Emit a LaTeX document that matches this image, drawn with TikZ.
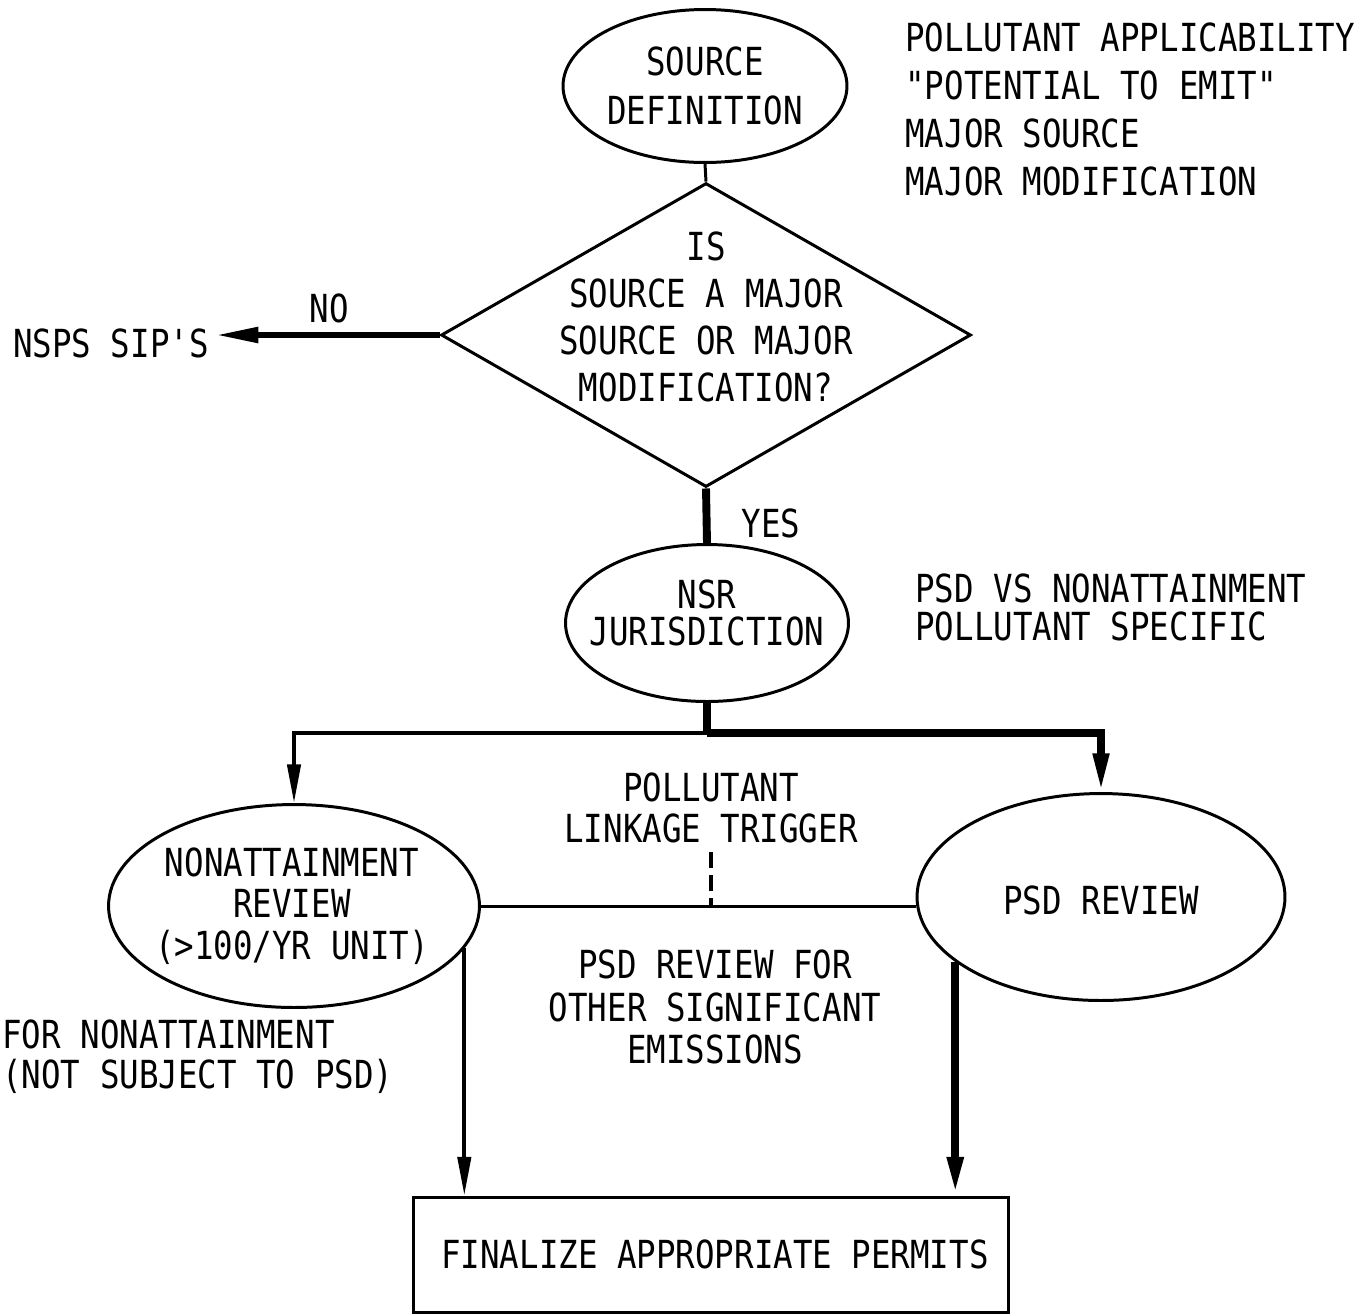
\documentclass[tikz,border=0pt]{standalone}
\usepackage{fontspec}
\newfontfamily\lettering[FakeStretch=0.84]{DejaVu Sans Mono}
\usetikzlibrary{shapes.geometric, arrows.meta}
\tikzset{
    terminal/.style={
        ellipse, draw=black, line width=1.7pt, inner sep=0pt
    },
    decision/.style={
        diamond, draw=black, line width=1.7pt, inner sep=0pt,
        minimum width=10.6cm, minimum height=6.08cm
    },
    permit/.style={
        rectangle, draw=black, line width=1.7pt, inner sep=0pt,
        minimum width=11.92cm, minimum height=2.3cm,
        font=\lettering\fontsize{22}{26}\selectfont
    },
    txt/.style={font=\lettering\fontsize{22}{#1}\selectfont, align=center, inner sep=0pt},
    txt/.default=26pt,
    wire/.style={draw=black, line width=2.2pt, -{Triangle[length=22pt, width=7.5pt]}},
    bus/.style={draw=black, line width=4.2pt, -{Triangle[length=22pt, width=8.5pt]}},
    trunk/.style={draw=black, line width=4.5pt},
    link/.style={draw=black, line width=1.7pt},
    tap/.style={draw=black, line width=2.6pt, dash pattern=on 9pt off 4pt}
}

\begin{document}
\begin{tikzpicture}[x=0.02cm, y=-0.02cm]
\useasboundingbox (0,0) rectangle (1358,1313);

% Source definition and the major source test
\node[terminal, minimum width=5.68cm, minimum height=3.06cm,
      label={[txt=27.9pt]center:{SOURCE\\DEFINITION}}] (srcdef) at (705,86) {};
\node[txt=27.3pt, anchor=west, align=left] (applic) at (905,109)
    {POLLUTANT APPLICABILITY\\"POTENTIAL TO EMIT"\\MAJOR SOURCE\\MAJOR MODIFICATION};

\node[decision, label={[txt=26.7pt, yshift=0.36cm]center:{IS\\SOURCE A MAJOR\\SOURCE OR MAJOR\\MODIFICATION?}}] (query) at (706,335) {};
\node[txt] (nsps) at (111,343) {NSPS SIP'S};
\node[txt] (no) at (329,308) {NO};
\node[txt] (yes) at (771,523) {YES};

% Jurisdiction
\node[terminal, minimum width=5.66cm, minimum height=3.14cm,
      label={[txt=21pt, yshift=0.2cm]center:{NSR\\JURISDICTION}}] (nsr) at (707,623) {};
\node[txt=21.6pt, anchor=west, align=left] (specific) at (915,607)
    {PSD VS NONATTAINMENT\\POLLUTANT SPECIFIC};
\coordinate (split) at (707,733);

% Reviews
\node[terminal, minimum width=7.42cm, minimum height=4.06cm,
      label={[txt=23.6pt, xshift=-0.04cm]center:{NONATTAINMENT\\REVIEW\\(>100/YR UNIT)}}] (nonatt) at (294,906) {};
\node[terminal, minimum width=7.36cm, minimum height=4.14cm,
      label={[txt, yshift=-0.06cm]center:{PSD REVIEW}}] (psd) at (1101,897) {};

\node[txt=23.3pt] (trigger) at (711,808) {POLLUTANT\\LINKAGE TRIGGER};
\node[txt=24.4pt] (other) at (715,1007) {PSD REVIEW FOR\\OTHER SIGNIFICANT\\EMISSIONS};
\node[txt=22.8pt, anchor=west, align=left] (naonly) at (2,1057)
    {FOR NONATTAINMENT\\(NOT SUBJECT TO PSD)};

% Permits
\node[permit] (final) at (711,1254.5) {\hspace{0.16cm}FINALIZE APPROPRIATE PERMITS};

% Connections
\draw[link] (srcdef.south) -- (query.north);
\draw[draw=black, line width=3.2pt, -{Triangle[length=24pt, width=8.5pt]}] (query.west) -- ([xshift=0.14cm]query.west -| nsps.east);
\draw[trunk] (query.south) -- (nsr.north);
\draw[trunk] (nsr.south) -- (split);
\draw[wire] (split) -| (nonatt.north);
\draw[bus] (split) -| (psd.north);

\draw[link] (nonatt.east) -- (nonatt.east -| psd.west);
\draw[tap] ([yshift=-0.18cm]trigger.south) -- (nonatt.east -| trigger.south);

\draw[wire] (nonatt.-14) -- (nonatt.-14 |- final.north);
\draw[draw=black, line width=4.6pt, -{Triangle[length=22pt, width=8.5pt]}] (psd.-156) -- (psd.-156 |- final.north);

\end{tikzpicture}
\end{document}
